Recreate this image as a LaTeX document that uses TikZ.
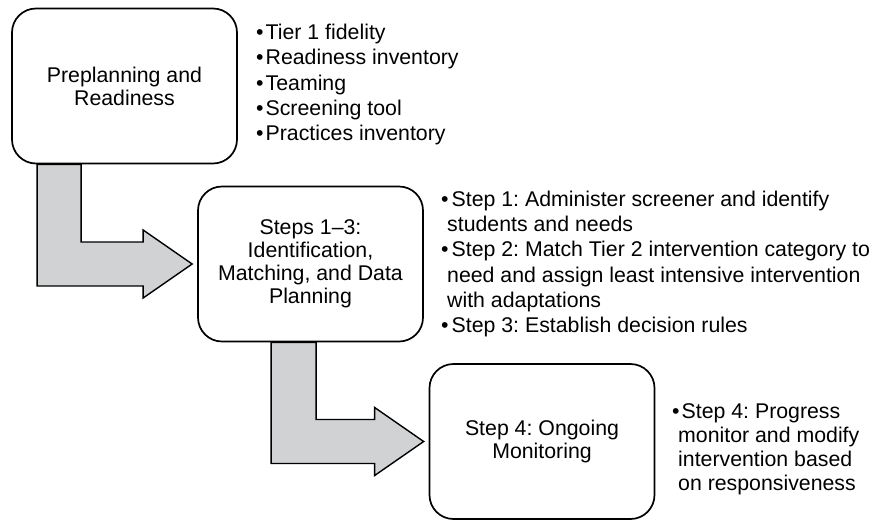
\documentclass[tikz,border=0pt]{standalone}
\usepackage{fontspec}
\setmainfont{Liberation Sans}
\usepackage{tikz}
\usepackage{xcolor}
\usetikzlibrary{calc, positioning}
\frenchspacing
\definecolor{arrowgray}{RGB}{209, 210, 212}
\tikzset{stagebox/.style={draw=black, line width=1.7pt, fill=white, rounded corners=24pt, minimum width=225pt, minimum height=155pt, align=center, inner sep=4pt, font=\fontsize{21.3}{23}\selectfont}}
\tikzset{itemlist/.style={align=left, anchor=north west, inner sep=0pt, font=\fontsize{21.3}{25.3}\selectfont}}
\tikzset{bendarrow/.style={fill=arrowgray, draw=black, line width=1.4pt, line join=miter}}

\begin{document}
\begin{tikzpicture}[x=1pt, y=-1pt]
        \useasboundingbox (0,0) rectangle (886,520);

        \node[stagebox] (Pre) at (124.5, 86) {Preplanning and\\Readiness};
        \node[stagebox] (Steps) at (310.5, 264) {Steps 1–3:\\Identification,\\Matching, and Data\\Planning};
        \node[stagebox] (Mon) at (542, 441.5) {Step 4: Ongoing\\Monitoring};

        \node[itemlist] (PreList) at (256, 24)
        {\textbullet\hspace{2pt}Tier 1 fidelity\\
         \textbullet\hspace{2pt}Readiness inventory\\
         \textbullet\hspace{2pt}Teaming\\
         \textbullet\hspace{2pt}Screening tool\\
         \textbullet\hspace{2pt}Practices inventory};
        \node[itemlist] (StepsList) at (441, 190.5)
        {\textbullet\hspace{3pt}Step 1: Administer screener and identify\\
         \hspace*{6pt}students and needs\\
         \textbullet\hspace{3pt}Step 2: Match Tier 2 intervention category to\\
         \hspace*{6pt}need and assign least intensive intervention\\
         \hspace*{6pt}with adaptations\\
         \textbullet\hspace{3pt}Step 3: Establish decision rules};
        \node[itemlist, font=\fontsize{21.3}{24.3}\selectfont] (MonList) at (672, 403)
        {\textbullet\hspace{2pt}Step 4: Progress\\
         \hspace*{6pt}monitor and modify\\
         \hspace*{6pt}intervention based\\
         \hspace*{6pt}on responsiveness};

        % bent block arrows between the stages
        \draw [bendarrow] let \p1 = (Pre.south west), \p2 = (Steps.west) in
        (\x1+26pt, \y1) -- (\x1+70pt, \y1) -- (\x1+70pt, \y2+22pt) -- (\x2-54pt, \y2+22pt)
        -- (\x2-54pt, \y2+34pt) -- (\x2-5pt, \y2) -- (\x2-54pt, \y2-34pt)
        -- (\x2-54pt, \y2-22pt) -- (\x1+26pt, \y2-22pt) -- cycle;
        \draw [bendarrow] let \p1 = (Steps.south west), \p2 = (Mon.west) in
        (\x1+74pt, \y1) -- (\x1+119pt, \y1) -- (\x1+119pt, \y2+22pt) -- (\x2-54pt, \y2+22pt)
        -- (\x2-54pt, \y2+34pt) -- (\x2-5pt, \y2) -- (\x2-54pt, \y2-34pt)
        -- (\x2-54pt, \y2-22pt) -- (\x1+74pt, \y2-22pt) -- cycle;
    \end{tikzpicture}
\end{document}
